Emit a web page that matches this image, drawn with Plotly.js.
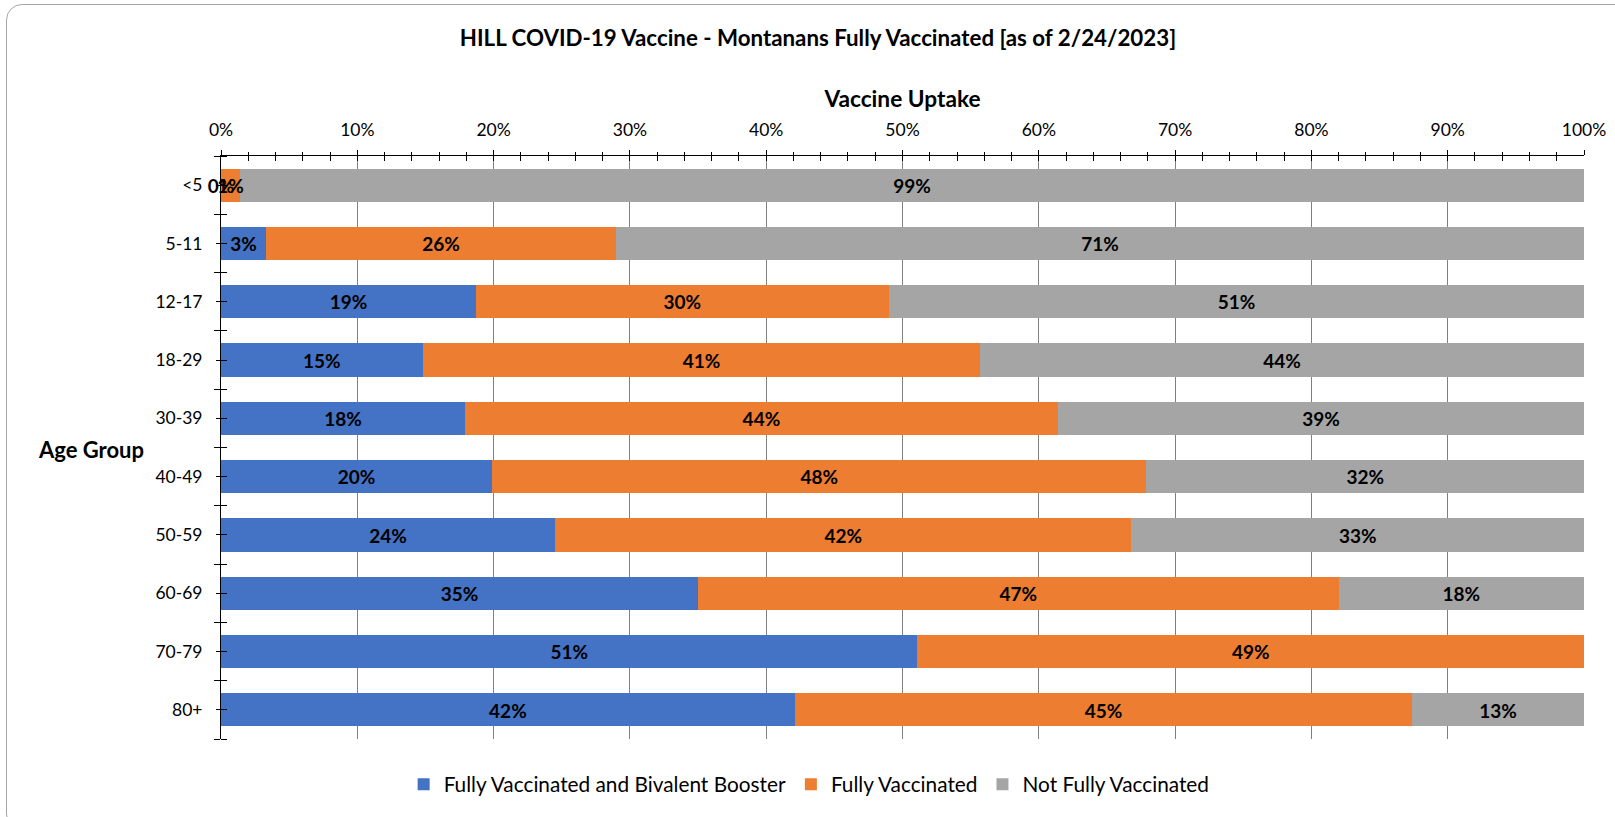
<!DOCTYPE html>
<html>
<head>
<meta charset="utf-8">
<script src="https://cdn.plot.ly/plotly-3.0.1.min.js"></script>
<style>
  html, body { margin: 0; padding: 0; background: #ffffff; }
  #wrap { position: relative; width: 1615px; height: 817px; overflow: hidden; }
  #chart { position: absolute; left: 0; top: 0; width: 1615px; height: 817px; }
  #frame { position: absolute; left: 6px; top: 4px; width: 1640px; height: 826px;
           border: 1.5px solid #a6a6a6; border-radius: 16px; pointer-events: none; box-sizing: border-box; }
</style>
</head>
<body>
<div id="wrap">
  <div id="chart"></div>
  <div id="frame"></div>
</div>
<script>
// ---- data (percent of age group) ----
const ageGroups = ['<5', '5-11', '12-17', '18-29', '30-39', '40-49', '50-59', '60-69', '70-79', '80+'];
const boosterValues = [0, 3.3, 18.7, 14.8, 17.9, 19.9, 24.5, 35.0, 51.1, 42.1];
const fullyValues = [1.4, 25.7, 30.3, 40.9, 43.5, 48.0, 42.3, 47.0, 48.9, 45.3];
const notFullyValues = [98.6, 71.0, 51.0, 44.3, 38.6, 32.1, 33.2, 18.0, 0, 12.6];
const boosterLabels = ['0%', '3%', '19%', '15%', '18%', '20%', '24%', '35%', '51%', '42%'];
const fullyLabels = ['1%', '26%', '30%', '41%', '44%', '48%', '42%', '47%', '49%', '45%'];
const notFullyLabels = ['99%', '71%', '51%', '44%', '39%', '32%', '33%', '18%', '', '13%'];
const xTickValues = [0, 10, 20, 30, 40, 50, 60, 70, 80, 90, 100];
const xTickLabels = ['0%', '10%', '20%', '30%', '40%', '50%', '60%', '70%', '80%', '90%', '100%'];

const seriesNames = ['Fully Vaccinated and Bivalent Booster', 'Fully Vaccinated', 'Not Fully Vaccinated'];
const seriesColors = ['#4472C4', '#ED7D31', '#A5A5A5'];

const FONT = 'Lato, "Liberation Sans", sans-serif';
const series = [boosterValues, fullyValues, notFullyValues];
const labels = [boosterLabels, fullyLabels, notFullyLabels];
const LABEL_NUDGE = 0.05; // small optical nudge so label caps sit at bar centre

const traces = [];
series.forEach((vals, i) => {
  traces.push({
    type: 'bar', orientation: 'h', name: seriesNames[i],
    x: vals, y: ageGroups,
    marker: { color: seriesColors[i], line: { width: 0 } },
    hoverinfo: 'x+name'
  });
});
// data labels centred in each segment (positions derived from the data),
// drawn on the overlaying index axis y2 which shares the category layout
let cum = ageGroups.map(() => 0);
series.forEach((vals, i) => {
  const centers = vals.map((v, k) => cum[k] + v / 2);
  cum = cum.map((c, k) => c + vals[k]);
  traces.push({
    type: 'scatter', mode: 'text', x: centers,
    y: ageGroups.map((_, k) => k + LABEL_NUDGE), yaxis: 'y2',
    text: labels[i], textposition: 'middle center',
    textfont: { family: FONT, size: 19, color: '#000000', weight: 'bold' },
    showlegend: false, hoverinfo: 'skip', cliponaxis: false
  });
});
// empty helper trace for the overlay x axis (tick marks only)
traces.push({ type: 'scatter', x: [], y: [], xaxis: 'x2', yaxis: 'y', showlegend: false, hoverinfo: 'skip' });

const layout = {
  width: 1615, height: 817,
  paper_bgcolor: 'rgba(0,0,0,0)', plot_bgcolor: 'rgba(0,0,0,0)',
  margin: { l: 221, r: 31, t: 156, b: 74, pad: 0 },
  barmode: 'stack', bargap: 0.43,
  font: { family: FONT, color: '#000000' },
  title: {
    text: 'HILL COVID-19 Vaccine - Montanans Fully Vaccinated [as of 2/24/2023]',
    font: { family: FONT, size: 22.3, color: '#000000', weight: 'bold' },
    x: 0.5065, xanchor: 'center', xref: 'container',
    y: 1 - 38 / 817, yanchor: 'middle', yref: 'container'
  },
  xaxis: {
    side: 'top', range: [0, 100], tickvals: xTickValues, ticktext: xTickLabels,
    showgrid: true, gridcolor: '#808080', gridwidth: 1,
    showline: true, linecolor: '#000000', linewidth: 1, zeroline: false,
    ticks: 'outside', ticklen: 5, tickcolor: '#000000', tickwidth: 1,
    minor: { dtick: 2, ticks: 'outside', ticklen: 3, tickcolor: '#000000', showgrid: false },
    tickfont: { family: FONT, size: 17.5, color: '#000000' },
    ticklabelstandoff: 7,
    title: { text: 'Vaccine Uptake', font: { family: FONT, size: 22.7, color: '#000000', weight: 'bold' }, standoff: 5 },
    fixedrange: true
  },
  xaxis2: {
    overlaying: 'x', side: 'top', anchor: 'y', range: [0, 100], dtick: 2,
    ticks: 'inside', ticklen: 5, tickcolor: '#000000', showticklabels: false,
    showgrid: false, showline: false, zeroline: false, fixedrange: true
  },
  yaxis: {
    type: 'category', range: [9.5, -0.5],
    showline: true, linecolor: '#000000', linewidth: 1, showgrid: false, zeroline: false,
    ticks: 'outside', ticklen: 4, tickcolor: '#000000',
    tickfont: { family: FONT, size: 17.5, color: '#000000' },
    ticklabelstandoff: 10,
    fixedrange: true
  },
  yaxis2: {
    overlaying: 'y', side: 'left', anchor: 'x', range: [9.5, -0.5],
    tick0: -0.5, dtick: 1, ticks: 'outside', ticklen: 6, tickcolor: '#000000',
    minor: { dtick: 0.5, tick0: -0.5, ticks: 'inside', ticklen: 6, tickcolor: '#000000', showgrid: false },
    showticklabels: false, showgrid: false, showline: false, zeroline: false, fixedrange: true
  },
  legend: {
    orientation: 'h', x: 0.134, xanchor: 'left', y: -0.0785, yanchor: 'middle',
    font: { family: FONT, size: 20.8, color: '#000000' },
    traceorder: 'normal', bgcolor: 'rgba(0,0,0,0)'
  },
  annotations: [{
    text: 'Age Group', xref: 'paper', yref: 'paper', x: -0.0954, y: 0.497,
    xanchor: 'center', yanchor: 'middle', showarrow: false,
    font: { family: FONT, size: 22, color: '#000000', weight: 'bold' }
  }]
};

Plotly.newPlot('chart', traces, layout, { displayModeBar: false, staticPlot: false });
</script>
</body>
</html>
